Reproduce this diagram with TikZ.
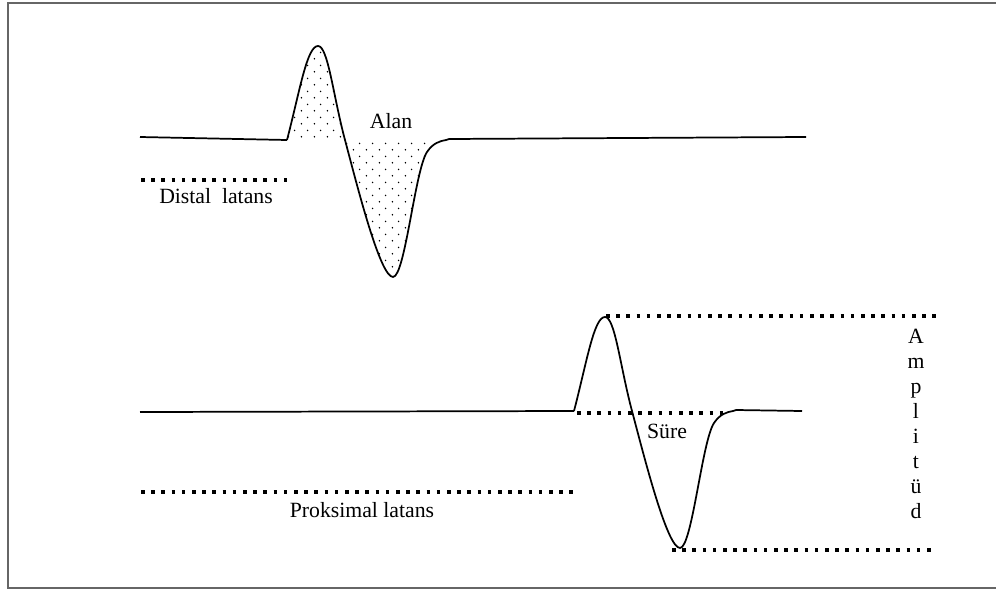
\documentclass[tikz,border=0pt]{standalone}
\usepackage{fontspec}
\setmainfont{Liberation Serif}
\usetikzlibrary{patterns}
\pgfdeclarepatternformonly{sdots}{\pgfpointorigin}{\pgfpoint{9.75pt}{10pt}}{\pgfpoint{9.75pt}{10pt}}{%
  \pgfpathcircle{\pgfpoint{2pt}{2.5pt}}{0.65pt}%
  \pgfpathcircle{\pgfpoint{6.875pt}{7.5pt}}{0.65pt}%
  \pgfusepath{fill}}
\newcommand\mywavecore{(0,0) .. controls (13,-50) and (20,-94) .. (31,-94)
  .. controls (41,-94) and (46,-45) .. (58,0)
  .. controls (70,45) and (93,137) .. (106,137)
  .. controls (118,137) and (128,30) .. (140,12)
  .. controls (146,3) and (153,1) .. (159,0)}
\tikzset{
  wave/.style={line width=1.3pt, line join=round},
  dotline/.style={line width=2.7pt, dash pattern=on 2.7pt off 4.95pt},
  frame/.style={black!60, line width=1.6pt},
  lbl/.style={font=\fontsize{16.3}{19}\selectfont, inner sep=0pt, anchor=base},
}
\begin{document}
\begin{tikzpicture}[x=0.75pt,y=-0.75pt]
\useasboundingbox (0,0) rectangle (996,589);
% frame
\draw[frame] (8,589) -- (8,3) -- (996,3);
\draw[frame] (8,588) -- (996,588);

% top wave
\begin{scope}[shift={(287,140)}]
  \fill[pattern=sdots] \mywavecore -- cycle;
  \draw[wave] \mywavecore -- (162,-1);
\end{scope}
\draw[wave] (140,137) -- (287,140);
\draw[wave] (449,139) -- (806,137);

% bottom wave
\begin{scope}[shift={(574,411)}]
  \draw[wave] \mywavecore -- (162,-1);
\end{scope}
\draw[wave] (140,412) -- (574,411);
\draw[wave] (736,410) -- (802,411);

% dotted lines
\coordinate (dl1) at (141,180); \coordinate (dl2) at (287,180);
\draw[dotline] (dl1) -- (dl2);
\coordinate (pl1) at (141,492); \coordinate (pl2) at (574,492);
\draw[dotline] (pl1) -- (pl2);
\coordinate (at1) at (606,316); \coordinate (at2) at (937,316);
\draw[dotline] (at1) -- (at2);
\coordinate (sb1) at (577,413); \coordinate (sb2) at (724,413);
\draw[dotline] (sb1) -- (sb2);
\coordinate (ab1) at (672,550); \coordinate (ab2) at (937,550);
\draw[dotline] (ab1) -- (ab2);

% labels
\node[lbl] (alan) at (391,128) {Alan};
\node[lbl] (distal) at (216,203) {Distal~~latans};
\node[lbl] (prok) at (362,517) {Proksimal latans};
\node[lbl] (sure) at (667,438) {Süre};
\foreach \ch [count=\i from 0] in {A,m,p,l,i,t,ü,d}
  \node[lbl] (amp\i) at (916,343+25*\i) {\ch};
\end{tikzpicture}
\end{document}
